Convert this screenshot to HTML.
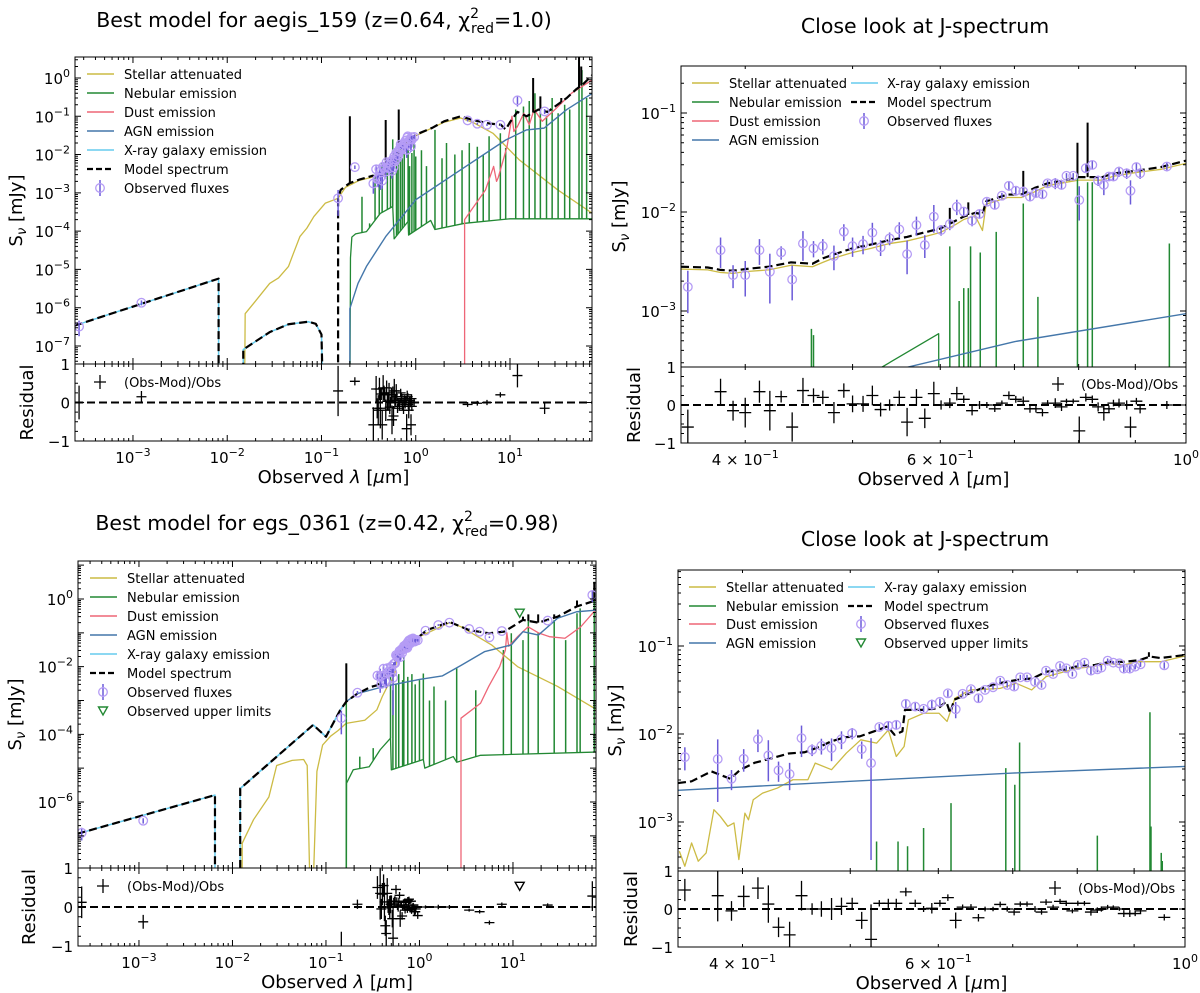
<!DOCTYPE html>
<html><head><meta charset="utf-8">
<style>
html,body{margin:0;padding:0;background:#fff;}
svg{display:block;font-family:"DejaVu Sans","Liberation Sans",sans-serif;}
</style></head>
<body>
<svg id="fig" width="1200" height="993" viewBox="0 0 1200 993" xmlns="http://www.w3.org/2000/svg"></svg>
<script>
// ===================== DATA (wavelength in micron, flux in mJy) =====================
const j1Lam=[0.355,0.380,0.390,0.400,0.412,0.421,0.431,0.441,0.451,0.461,0.470,0.481,0.491,0.500,0.511,0.521,0.530,0.540,0.551,0.560,0.571,0.581,0.592,0.601,0.612,0.621,0.630,0.641,0.651,0.661,0.672,0.682,0.692,0.702,0.713,0.723,0.732,0.742,0.750,0.762,0.772,0.780,0.791,0.801,0.812,0.823,0.833,0.843,0.852,0.860,0.870,0.884,0.891,0.902,0.909,0.961];
const j1Flux=[1.75e-3,4.12e-3,2.30e-3,2.30e-3,4.12e-3,2.49e-3,3.90e-3,2.08e-3,4.81e-3,4.28e-3,4.52e-3,3.58e-3,6.32e-3,4.52e-3,4.74e-3,6.18e-3,4.39e-3,5.41e-3,6.67e-3,3.75e-3,7.38e-3,4.63e-3,8.97e-3,6.57e-3,7.55e-3,1.13e-2,1.01e-2,8.17e-3,9.55e-3,1.27e-2,1.18e-2,1.46e-2,1.84e-2,1.64e-2,1.61e-2,1.43e-2,1.55e-2,1.51e-2,1.95e-2,1.95e-2,1.88e-2,2.32e-2,2.32e-2,1.32e-2,2.77e-2,2.99e-2,2.08e-2,1.88e-2,2.28e-2,2.28e-2,2.56e-2,2.46e-2,1.64e-2,2.84e-2,2.46e-2,2.88e-2];
const j1Err=[0.8e-3,1.4e-3,0.6e-3,0.9e-3,1.2e-3,1.3e-3,0.6e-3,0.8e-3,1.6e-3,0.8e-3,0.8e-3,1.0e-3,1.2e-3,1.0e-3,1.0e-3,1.6e-3,0.8e-3,0.8e-3,1.2e-3,1.4e-3,1.6e-3,1.2e-3,2.8e-3,0.8e-3,1.0e-3,2.0e-3,1.0e-3,1.0e-3,1.0e-3,1.0e-3,1.0e-3,1.0e-3,2.0e-3,1.5e-3,2.0e-3,1.5e-3,1.5e-3,1.5e-3,1.5e-3,2.5e-3,2.0e-3,1.5e-3,1.5e-3,5.0e-3,3.0e-3,3.0e-3,2.5e-3,4.0e-3,2.0e-3,2.0e-3,3.0e-3,3.0e-3,4.5e-3,2.5e-3,3.0e-3,3.0e-3];
const j1Res=[-0.58,0.35,-0.15,-0.2,0.35,-0.15,0.22,-0.58,0.38,0.25,0.2,-0.2,0.38,0.03,0.03,0.25,-0.12,0.0,0.2,-0.45,0.2,-0.35,0.3,0.0,0.05,0.3,0.15,-0.15,0.0,0.0,-0.1,0.05,0.25,0.15,0.1,-0.1,-0.1,-0.2,0.05,0.05,-0.05,0.1,0.1,-0.68,0.2,0.15,-0.05,-0.2,-0.1,0.05,0.05,0.0,-0.58,0.1,-0.1,0.0];
const j1ModelLam=[0.35,0.37,0.38,0.39,0.40,0.42,0.44,0.46,0.47,0.48,0.50,0.52,0.54,0.56,0.58,0.60,0.62,0.63,0.645,0.655,0.66,0.69,0.71,0.73,0.75,0.78,0.80,0.84,0.86,0.90,0.95,1.0];
const j1ModelFlux=[2.8e-3,2.75e-3,2.6e-3,2.55e-3,2.65e-3,2.8e-3,3.1e-3,3.0e-3,3.4e-3,3.7e-3,4.3e-3,4.7e-3,5.2e-3,5.6e-3,6.2e-3,6.8e-3,8.2e-3,9.0e-3,9.8e-3,9.5e-3,1.28e-2,1.5e-2,1.5e-2,1.75e-2,1.95e-2,2.1e-2,2.25e-2,2.25e-2,2.45e-2,2.6e-2,2.85e-2,3.3e-2];
const j1StellarFlux=[2.65e-3,2.6e-3,2.45e-3,2.4e-3,2.5e-3,2.6e-3,2.9e-3,2.8e-3,3.1e-3,3.4e-3,3.9e-3,4.3e-3,4.8e-3,5.1e-3,5.6e-3,6.2e-3,7.5e-3,8.4e-3,9.2e-3,6.5e-3,1.2e-2,1.4e-2,1.4e-2,1.6e-2,1.85e-2,2.0e-2,2.1e-2,2.1e-2,2.3e-2,2.5e-2,2.7e-2,3.1e-2];
const j1SpikeLam=[0.612,0.636,0.713,0.798,0.815];
const j1SpikeFlux=[1.1e-2,1.25e-2,2.6e-2,5.0e-2,8.0e-2];
const j1AgnLam=[0.5,0.56,0.7,1.0];
const j1AgnFlux=[1.8e-4,2.7e-4,4.9e-4,9.4e-4];
const j1NebContLam=[0.525,0.598,0.599];
const j1NebContFlux=[2.5e-4,5.9e-4,1e-9];
const j1LineLam=[0.459,0.461,0.612,0.624,0.630,0.636,0.639,0.652,0.674,0.713,0.735,0.798,0.815,0.823,0.966];
const j1LineFlux=[6.6e-4,5.7e-4,4.5e-3,1.26e-3,1.7e-3,1.7e-3,4.5e-3,3.9e-3,6.3e-3,1.22e-2,1.39e-3,2.2e-2,2.0e-2,2.0e-2,4.8e-3];

const s1ObsLam=[2.68e-4,1.23e-3,0.15,0.226,3.55,4.5,5.7,7.9,12,23.3];
const s1ObsFlux=[3.2e-7,1.35e-6,7.2e-4,4.7e-3,7.8e-2,6.4e-2,6.0e-2,6.0e-2,0.26,0.134];
const s1ObsErr=[1.4e-7,0.2e-6,4.7e-4,0.5e-3,0.5e-2,0.4e-2,0.4e-2,0.4e-2,0.08,0.02];
const s1ObsRes=[0.0,0.15,0.3,0.55,-0.05,-0.02,0.0,0.2,0.7,-0.15];
const s1ModelLam=[2.4e-4,8.1e-3,8.1e-3,0.0148,0.0148,0.0282,0.0447,0.0724,0.087,0.1,0.105,0.15,0.15,0.16,0.18,0.2,0.25,0.3,0.35,0.4,0.45,0.5,0.55,0.6,0.65,0.7,0.8,0.9,1.0,1.5,2,3,4,6,8,9,10,12,15,20,25,30,40,50,60,75];
const s1ModelFlux=[3.4e-7,5.75e-6,1e-9,1e-9,8.1e-8,2.3e-7,3.7e-7,4.3e-7,3.8e-7,2e-7,1e-9,1e-9,7.2e-4,1.2e-3,1.5e-3,1.8e-3,2.2e-3,2.5e-3,2.8e-3,2.6e-3,3.0e-3,4.3e-3,5.3e-3,6.8e-3,1.1e-2,1.6e-2,2.2e-2,2.6e-2,3.3e-2,5e-2,7.4e-2,0.1,0.08,0.065,0.06,0.045,0.07,0.13,0.1,0.15,0.13,0.18,0.3,0.5,0.7,1.2];
const s1SpikeLam=[0.2,0.48,0.66,17.6,21,35,54,57];
const s1SpikeFlux=[0.1,0.08,0.15,1.0,0.33,0.3,3.5,2.0];
const s1XrayLam=[2.4e-4,8.1e-3,8.1e-3,0.0148,0.0148,0.0282,0.0447,0.0724,0.087,0.1,0.105];
const s1XrayFlux=[3.4e-7,5.75e-6,1e-9,1e-9,8.1e-8,2.3e-7,3.7e-7,4.3e-7,3.8e-7,2e-7,1e-9];
const s1StellarLam=[0.0152,0.0155,0.02,0.0282,0.035,0.0447,0.05,0.059,0.07,0.083,0.11,0.15,0.18,0.25,0.35,0.5,0.6,0.7,1.0,2,3,4,6.6,12.6,32,75];
const s1StellarFlux=[1e-9,7e-7,1.5e-6,4.3e-6,6e-6,1.2e-5,2.5e-5,7.2e-5,1.2e-4,2.4e-4,5.4e-4,7.2e-4,1.4e-3,2.1e-3,2.6e-3,4e-3,6.3e-3,1.5e-2,3.1e-2,7e-2,9e-2,7e-2,3.6e-2,7.2e-3,1.2e-3,2.9e-4];
const s1AgnLam=[0.2,0.2,0.244,0.3,0.48,1,3,9,15,23,40,75];
const s1AgnFlux=[1e-9,9.5e-7,4.3e-6,1.2e-5,7.2e-5,6.6e-4,4e-3,2.4e-2,4.4e-2,4.9e-2,0.15,0.4];
const s1DustLam=[3.3,3.3,5.5,6.7,7.2,7.5,9.3,10.5,11,12,14,16,18,22,30,45,75];
const s1DustFlux=[1e-9,2e-4,1.2e-3,4.9e-3,2e-3,2.5e-3,1.6e-2,0.1,4e-2,5.4e-2,0.12,6e-2,0.15,7.4e-2,0.15,0.4,0.9];
const s1NebContLam=[0.2,0.203,0.21,0.23,0.3,0.42,0.57,0.59,0.83,0.84,1.44,1.6,3.3,10,75];
const s1NebContFlux=[1e-9,2e-5,7e-5,8.5e-5,9.7e-5,2.9e-4,4.4e-4,6.3e-5,1.8e-4,7.9e-5,1.9e-4,1.1e-4,1.6e-4,2.1e-4,2.1e-4];
const s1LineLam=[0.269,0.324,0.37,0.41,0.44,0.5,0.54,0.57,0.625,0.65,0.687,0.72,0.755,0.83,0.86,0.91,0.96,1.0,1.15,1.3,1.6,1.9,2.12,2.6,3.1,3.7,4.5,5.2,6.0,7.9,9,11.5,13.9,16,18.4,21,24.4,28,32.4,38,43,54,58,65];
const s1LineFlux=[7.9e-4,1.6e-4,3e-3,2e-3,6e-3,5e-3,9e-3,2.5e-2,7.2e-3,1.2e-2,2e-2,8e-3,1.3e-2,3e-2,5e-3,1.1e-2,2e-2,8.9e-3,1.3e-2,5e-3,4.4e-2,8e-3,2e-2,1e-2,1.3e-2,2e-2,1.6e-2,1e-2,3e-2,3.6e-2,1.5e-2,0.15,0.18,0.25,0.4,0.2,0.1,0.3,0.12,0.2,0.15,3.0,1.6,0.3];

const j2Lam=[0.355,0.380,0.391,0.401,0.413,0.422,0.431,0.441,0.452,0.462,0.471,0.481,0.491,0.502,0.512,0.522,0.531,0.541,0.550,0.561,0.572,0.582,0.592,0.602,0.612,0.622,0.631,0.642,0.652,0.661,0.672,0.682,0.692,0.702,0.711,0.721,0.733,0.743,0.750,0.761,0.772,0.782,0.792,0.801,0.812,0.823,0.834,0.841,0.852,0.862,0.873,0.881,0.892,0.902,0.912,0.958];
const j2Flux=[5.46e-3,5.19e-3,3.10e-3,5.23e-3,8.73e-3,5.70e-3,3.86e-3,3.50e-3,8.97e-3,6.61e-3,7.34e-3,6.91e-3,8.73e-3,1.02e-2,6.73e-3,4.67e-3,1.20e-2,1.24e-2,1.27e-2,2.20e-2,2.05e-2,1.93e-2,2.16e-2,2.32e-2,2.90e-2,1.91e-2,2.86e-2,3.23e-2,2.55e-2,3.17e-2,3.40e-2,4.04e-2,3.61e-2,3.46e-2,4.41e-2,4.41e-2,3.91e-2,3.61e-2,5.25e-2,4.81e-2,5.93e-2,5.58e-2,4.81e-2,6.09e-2,6.47e-2,5.25e-2,5.43e-2,5.68e-2,6.82e-2,6.47e-2,6.36e-2,5.53e-2,5.53e-2,5.83e-2,6.19e-2,6.03e-2];
const j2Err=[1.6e-3,3.5e-3,0.8e-3,1.5e-3,2.5e-3,2.8e-3,1.0e-3,1.2e-3,3.5e-3,1.0e-3,1.5e-3,2.0e-3,2.0e-3,1.5e-3,1.5e-3,4.3e-3,1.0e-3,1.5e-3,1.5e-3,2.5e-3,2.0e-3,1.5e-3,3.0e-3,2.0e-3,2.5e-3,4.0e-3,2.0e-3,2.5e-3,2.5e-3,2.0e-3,2.0e-3,3.0e-3,2.5e-3,3.0e-3,3.0e-3,3.0e-3,3.0e-3,2.5e-3,4.0e-3,3.0e-3,4.0e-3,4.0e-3,3.0e-3,4.0e-3,4.0e-3,5.0e-3,4.0e-3,4.0e-3,4.0e-3,3.0e-3,3.0e-3,5.0e-3,5.0e-3,4.0e-3,4.0e-3,5.0e-3];
const j2Res=[0.5,0.35,-0.05,0.33,0.55,0.13,-0.48,-0.68,0.35,0.0,0.0,0.0,0.07,0.15,-0.3,-0.8,0.15,0.15,0.15,0.45,0.15,0.0,0.02,0.15,0.3,-0.3,0.05,0.05,-0.23,0.0,0.0,0.12,0.0,-0.08,0.13,0.13,0.0,-0.08,0.18,0.05,0.2,0.15,-0.05,0.15,0.15,-0.08,-0.03,0.0,0.05,0.05,0.0,-0.12,-0.12,-0.12,-0.05,-0.22];
const j2ModelLam=[0.35,0.36,0.375,0.39,0.398,0.41,0.425,0.44,0.455,0.47,0.48,0.495,0.51,0.525,0.54,0.548,0.557,0.56,0.58,0.60,0.61,0.615,0.62,0.64,0.66,0.68,0.705,0.73,0.75,0.78,0.80,0.83,0.855,0.88,0.91,0.93,0.95,1.0];
const j2ModelFlux=[2.77e-3,2.9e-3,3.76e-3,3.1e-3,3.9e-3,4.7e-3,5.3e-3,6.0e-3,6.2e-3,7.2e-3,8.2e-3,9.2e-3,9.4e-3,1.07e-2,1.22e-2,9.8e-3,1.07e-2,1.88e-2,1.88e-2,1.96e-2,2.34e-2,1.72e-2,2.45e-2,2.9e-2,3.4e-2,3.77e-2,4.1e-2,4.3e-2,5.1e-2,5.4e-2,5.9e-2,6.1e-2,6.6e-2,6.6e-2,6.9e-2,7.6e-2,7.3e-2,7.9e-2];
const j2SpikeLam=[0.928];
const j2SpikeFlux=[8.5e-2];
const j2StellarLam=[0.351,0.355,0.360,0.365,0.371,0.377,0.382,0.388,0.393,0.397,0.402,0.405,0.409,0.417,0.430,0.444,0.458,0.465,0.481,0.496,0.511,0.528,0.541,0.550,0.559,0.564,0.582,0.601,0.611,0.621,0.641,0.661,0.682,0.705,0.728,0.750,0.774,0.799,0.826,0.852,0.880,0.908,0.952,1.0];
const j2StellarFlux=[4.65e-4,3.14e-4,5.78e-4,3.58e-4,4.45e-4,1.38e-3,1.16e-3,8.93e-4,9.75e-4,3.74e-4,1.26e-3,1.06e-3,1.79e-3,2.13e-3,2.43e-3,3.02e-3,3.02e-3,4.67e-3,3.93e-3,6.07e-3,8.59e-3,7.87e-3,1.11e-2,5.56e-3,7.21e-3,1.45e-2,1.72e-2,1.72e-2,1.39e-2,2.55e-2,3.17e-2,3.22e-2,3.30e-2,3.77e-2,3.17e-2,4.49e-2,4.99e-2,5.58e-2,5.83e-2,6.36e-2,6.09e-2,6.64e-2,6.64e-2,7.7e-2];
const j2AgnLam=[0.35,0.5,0.7,1.0];
const j2AgnFlux=[2.29e-3,2.9e-3,3.6e-3,4.28e-3];
const j2LineLam=[0.528,0.552,0.563,0.582,0.616,0.690,0.703,0.710,0.834,0.930,0.932,0.952,0.954];
const j2LineFlux=[6.0e-4,6.0e-4,5.3e-4,8.55e-4,1.64e-3,4.1e-3,2.65e-3,8.0e-3,7.0e-4,1.77e-2,8.9e-4,4.45e-4,3.6e-4];

const s2ObsLam=[2.44e-4,1.11e-3,0.146,0.217,1.16,1.59,2.09,3.4,4.4,5.6,7.6,23.5,70.6];
const s2ObsFlux=[1.23e-7,2.8e-7,3e-4,1.7e-3,0.116,0.17,0.2,0.13,0.108,7.4e-2,0.113,0.23,1.31];
const s2ObsErr=[0.5e-7,0.5e-7,2.0e-4,0.2e-3,0.005,0.01,0.01,0.005,0.005,0.004,0.005,0.01,0.5];
const s2ObsRes=[0.12,-0.38,-1.3,0.07,0.0,0.0,0.0,-0.08,-0.12,-0.4,0.07,0.05,0.28];
const s2UlLam=[11.8];
const s2UlFlux=[0.38];
const s2UlRes=[0.53];
const s2ModelLam=[2.2e-4,6.5e-3,6.5e-3,0.0121,0.0121,0.073,0.1,0.142,0.165,0.217,0.3,0.35,0.4,0.45,0.5,0.54,0.56,0.6,0.64,0.7,0.8,0.9,1.0,1.2,2.1,3.4,5.5,8,10.5,12.8,18.7,30,48,79];
const s2ModelFlux=[1.15e-7,1.6e-6,1e-9,1e-9,2.5e-6,1.9e-4,8.5e-5,5.2e-4,9.3e-4,1.6e-3,2.5e-3,2.8e-3,4.0e-3,6.1e-3,9.2e-3,1.2e-2,1.9e-2,2e-2,2.9e-2,4.1e-2,5.9e-2,6.9e-2,7.9e-2,0.12,0.21,0.12,0.097,0.108,0.17,0.24,0.2,0.3,0.6,0.93];
const s2SpikeLam=[0.165,9.6,12.8,14.6,18.6,27.6,48.4,74];
const s2SpikeFlux=[1.25e-2,0.15,0.3,0.35,0.35,0.35,0.9,3.2];
const s2XrayLam=[2.2e-4,6.5e-3,6.5e-3,0.0121,0.0121,0.073,0.1,0.142,0.165];
const s2XrayFlux=[1.15e-7,1.6e-6,1e-9,1e-9,2.5e-6,1.9e-4,8.5e-5,5.2e-4,9.3e-4];
const s2StellarLam=[0.0127,0.0127,0.0168,0.0245,0.0297,0.0435,0.0577,0.063,0.068,0.072,0.08,0.092,0.112,0.135,0.164,0.26,0.35,0.4,0.45,0.5,0.55,0.565,0.7,1.0,2.1,2.8,5.9,11.2,30,79];
const s2StellarFlux=[1e-9,6e-8,3e-7,1.4e-6,1.2e-5,1.7e-5,1.8e-5,1.2e-5,1e-9,1e-9,8e-6,4.8e-5,8.8e-5,1.3e-4,2.1e-4,2.6e-4,5.3e-4,1.3e-3,2.5e-3,3.5e-3,7e-3,1.45e-2,3.5e-2,7.7e-2,0.2,0.15,4.4e-2,1e-2,2.6e-3,5.3e-4];
const s2AgnLam=[0.0121,0.073,0.1,0.142,0.165,0.217,0.42,1.0,1.75,2.8,5,9.6,12.8,18.7,30,48,79];
const s2AgnFlux=[2.5e-6,1.9e-4,8.5e-5,5.2e-4,9.3e-4,1.6e-3,2.6e-3,4.2e-3,5.3e-3,1.1e-2,2.8e-2,4.4e-2,0.108,8.6e-2,0.27,0.42,0.47];
const s2DustLam=[2.78,2.78,4.5,5.5,7.2,8.3,8.6,9,11.2,14.5,18.7,24.5,36,53,79];
const s2DustFlux=[1e-9,3e-4,8.3e-4,2.6e-3,1e-2,3.1e-2,0.1,4e-2,7.7e-2,0.15,0.1,7.7e-2,6.9e-2,0.15,0.53];
const s2NebContLam=[0.165,0.166,0.196,0.29,0.38,0.49,0.5,1.1,1.14,2.3,2.5,4.5,79];
const s2NebContFlux=[1e-9,3.6e-6,9e-6,1.1e-5,3.5e-5,7.7e-5,8.9e-6,1.8e-5,1e-5,2.2e-5,1.5e-5,2.4e-5,3e-5];
const s2LineLam=[0.165,0.23,0.32,0.49,0.52,0.56,0.6,0.66,0.68,0.75,0.83,0.9,1.0,1.1,1.28,1.43,1.9,2.5,4,7.9,9.6,12.8,14.6,18.6,27.6,36.6,48.4,52.3,74];
const s2LineFlux=[1.25e-2,2.2e-5,3.9e-5,5e-3,2e-3,3e-3,6e-3,4e-3,2e-2,5e-3,6e-3,3e-3,4e-3,6.3e-3,1e-3,2.6e-3,1e-3,9e-3,2e-3,3.1e-2,9.7e-2,6.1e-2,0.3,0.1,0.24,6.1e-2,0.38,0.53,3.2];

// ===================== DRAWING =====================
const NS='http://www.w3.org/2000/svg';
const svg=document.getElementById('fig');
const C={stellar:'#CCBB44',neb:'#228833',dust:'#EE6677',agn:'#4477AA',xray:'#66CCEE',obsEdge:'#b59cf5',obsErr:'#6a5ad8'};
function mk(tag,attrs,parent){const e=document.createElementNS(NS,tag);for(const k in attrs)e.setAttribute(k,attrs[k]);parent.appendChild(e);return e;}
function interp(lams,fl,l){
  if(!lams||lams.length===0)return 1e-9;
  if(l<lams[0]||l>lams[lams.length-1])return 1e-9;
  for(let i=0;i<lams.length-1;i++){
    if(l>=lams[i]&&l<=lams[i+1]){
      if(lams[i+1]===lams[i])return fl[i+1];
      const t=(Math.log10(l)-Math.log10(lams[i]))/(Math.log10(lams[i+1])-Math.log10(lams[i]));
      return Math.pow(10,Math.log10(fl[i])+t*(Math.log10(fl[i+1])-Math.log10(fl[i])));
    }
  }
  return 1e-9;
}
let clipId=0;
function sci(parent,x,y,anchor,mant,exp,size){
  const t=mk('text',{x:x,y:y,'text-anchor':anchor,'font-size':size||15,fill:'#000'},parent);
  
  
  const a=mk('tspan',{},t);a.textContent=(mant?mant+' \u00d7 ':'')+'10';
  const b=mk('tspan',{dy:-7,'font-size':11},t);b.textContent=exp;
  return t;
}
function panel(cfg){
  const g=mk('g',{},svg);
  
  
  const X=v=>cfg.x0+(Math.log10(v)-cfg.lx0)/(cfg.lx1-cfg.lx0)*(cfg.x1-cfg.x0);
  const Y=v=>cfg.yb-(Math.log10(Math.max(v,1e-14))-cfg.ly0)/(cfg.ly1-cfg.ly0)*(cfg.yb-cfg.yt);
  const R=v=>cfg.yb+(1-v)/2*(cfg.rb-cfg.yb);
  const defs=mk('defs',{},g);
  const cm='c'+(clipId++), cr='c'+(clipId++);
  const cp1=mk('clipPath',{id:cm},defs);mk('rect',{x:cfg.x0,y:cfg.yt,width:cfg.x1-cfg.x0,height:cfg.yb-cfg.yt},cp1);
  const cp2=mk('clipPath',{id:cr},defs);mk('rect',{x:cfg.x0,y:cfg.yb,width:cfg.x1-cfg.x0,height:cfg.rb-cfg.yb},cp2);
  const main=mk('g',{'clip-path':'url(#'+cm+')'},g);
  
  
  const res=mk('g',{'clip-path':'url(#'+cr+')'},g);
  
  
  function line(lams,fl,color,w,name,dash){
    const n=Math.min(lams.length,fl.length);let d='';
    for(let i=0;i<n;i++){d+=(i?'L':'M')+X(lams[i]).toFixed(2)+' '+Math.min(Y(fl[i]),cfg.yb+400).toFixed(2);}
    const p=mk('path',{d:d,fill:'none',stroke:color,'stroke-width':w,'stroke-linejoin':'round'},main);
    if(dash)p.setAttribute('stroke-dasharray',dash);
    
    
  }
  function vlines(lams,fl,baseL,baseF,color,w,name){
    const n=Math.min(lams.length,fl.length);let d='';
    for(let i=0;i<n;i++){
      const b=interp(baseL,baseF,lams[i]);
      const yb=Math.min(Y(b),cfg.yb+5);
      d+='M'+X(lams[i]).toFixed(2)+' '+yb.toFixed(2)+'L'+X(lams[i]).toFixed(2)+' '+Y(fl[i]).toFixed(2);
    }
    const p=mk('path',{d:d,fill:'none',stroke:color,'stroke-width':w},main);
    
    
  }
  const S=cfg.s;
  if(S.stellarL)line(S.stellarL,S.stellarF,C.stellar,1.3,'stellar-attenuated-line');
  if(S.nebL)line(S.nebL,S.nebF,C.neb,1.3,'nebular-continuum-line');
  if(S.lineL)vlines(S.lineL,S.lineF,S.nebL,S.nebF,C.neb,1.5,'nebular-emission-lines');
  if(S.dustL)line(S.dustL,S.dustF,C.dust,1.3,'dust-emission-line');
  if(S.agnL)line(S.agnL,S.agnF,C.agn,1.4,'agn-emission-line');
  if(S.xrayL)line(S.xrayL,S.xrayF,C.xray,1.5,'xray-emission-line');
  line(S.modelL,S.modelF,'#000',2.2,'model-spectrum-line','8,4');
  if(S.spikeL)vlines(S.spikeL,S.spikeF,S.modelL,S.modelF,'#000',2,'model-spectrum-spikes');
  const hw=cfg.hw;
  S.obs.forEach(o=>{
    const n=Math.min(o.l.length,o.f.length);
    for(let i=0;i<n;i++){
      const x=X(o.l[i]),y=Y(o.f[i]);
      const lo=o.f[i]-o.e[i]>0?Y(o.f[i]-o.e[i]):cfg.yb+10;
      const eb=mk('line',{x1:x,x2:x,y1:lo,y2:Y(o.f[i]+o.e[i]),stroke:C.obsErr,'stroke-width':1.5},main);
      
      
      const c=mk('circle',{cx:x,cy:y,r:4.3,fill:'none',stroke:C.obsEdge,'stroke-width':1.3},main);
      
      
      const rv=o.r[i],re=o.e[i]/o.f[i];
      const ry=R(rv);
      let d='M'+(x-hw)+' '+ry+'L'+(x+hw)+' '+ry+'M'+x+' '+R(rv+re)+'L'+x+' '+R(rv-re);
      const cr2=mk('path',{d:d,stroke:'#000','stroke-width':1.3,fill:'none'},res);
      
      
    }
  });
  if(S.ulL){
    for(let i=0;i<S.ulL.length;i++){
      const x=X(S.ulL[i]),y=Y(S.ulF[i]);
      const t=mk('path',{d:`M${x-4.5} ${y-4}L${x+4.5} ${y-4}L${x} ${y+4}Z`,fill:'none',stroke:C.neb,'stroke-width':1.4},main);
      
      
      const ry=R(S.ulR[i]);
      const t2=mk('path',{d:`M${x-4.5} ${ry-4}L${x+4.5} ${ry-4}L${x} ${ry+4}Z`,fill:'none',stroke:'#000','stroke-width':1.4},res);
      
      
    }
  }
  const zl=mk('line',{x1:cfg.x0,x2:cfg.x1,y1:R(0),y2:R(0),stroke:'#000','stroke-width':2,'stroke-dasharray':'8,4'},res);
  
  
  const f1=mk('rect',{x:cfg.x0,y:cfg.yt,width:cfg.x1-cfg.x0,height:cfg.yb-cfg.yt,fill:'none',stroke:'#000','stroke-width':1},g);
  
  
  const f2=mk('rect',{x:cfg.x0,y:cfg.yb,width:cfg.x1-cfg.x0,height:cfg.rb-cfg.yb,fill:'none',stroke:'#000','stroke-width':1},g);
  
  
  let td='';
  const xt=(x,len)=>{td+=`M${x} ${cfg.yt}l0 ${len}M${x} ${cfg.yb}l0 ${-len}M${x} ${cfg.yb}l0 ${len}M${x} ${cfg.rb}l0 ${-len}`;};
  const yt=(y,len)=>{td+=`M${cfg.x0} ${y}l${len} 0M${cfg.x1} ${y}l${-len} 0`;};
  const xlab=mk('g',{},g);
  
  
  if(cfg.type==='full'){
    for(let e=Math.floor(cfg.lx0);e<=Math.ceil(cfg.lx1);e++){
      for(let k=1;k<10;k++){const lv=e+Math.log10(k);if(lv<cfg.lx0||lv>cfg.lx1)continue;
        const x=X(Math.pow(10,lv));xt(x,k===1?6:3);
        if(k===1)sci(xlab,x,cfg.rb+22,'middle','',(e<0?'\u2212'+(-e):String(e)));}
    }
  } else {
    [0.4,0.5,0.6,0.7,0.8,0.9,1.0].forEach(v=>{const x=X(v);xt(x,v===1?6:3);});
    sci(xlab,X(0.4),cfg.rb+22,'middle','4','\u22121');
    sci(xlab,X(0.6),cfg.rb+22,'middle','6','\u22121');
    sci(xlab,X(1.0),cfg.rb+22,'middle','','0');
  }
  const ylab=mk('g',{},g);
  
  
  for(let e=Math.floor(cfg.ly0);e<=Math.ceil(cfg.ly1);e++){
    for(let k=1;k<10;k++){const lv=e+Math.log10(k);if(lv<cfg.ly0||lv>cfg.ly1)continue;
      const y=Y(Math.pow(10,lv));yt(y,k===1?6:3);
      if(k===1&&(e%cfg.ystep===0))sci(ylab,cfg.x0-5,y+6,'end','',(e<0?'\u2212'+(-e):String(e)));}
  }
  for(let v=-1;v<=1.001;v+=0.25){yt(R(v),Math.abs(v-Math.round(v))<0.01?6:3);}
  [[1,'1'],[0,'0'],[-1,'\u22121']].forEach(([v,s])=>{
    const t=mk('text',{x:cfg.x0-5,y:R(v)+6,'text-anchor':'end','font-size':15},ylab);
    
    
    t.textContent=s;
  });
  const tk=mk('path',{d:td,stroke:'#000','stroke-width':1,fill:'none'},g);
  
  
  const ylx=cfg.ylabX, ylc=(cfg.yt+cfg.yb)/2;
  const yl=mk('text',{x:ylx,y:ylc,'text-anchor':'middle','font-size':18,transform:`rotate(-90 ${ylx} ${ylc})`},g);
  
  
  mk('tspan',{},yl).textContent='S';
  mk('tspan',{dy:4,'font-size':13,'font-style':'italic'},yl).textContent='\u03bd';
  mk('tspan',{dy:-4},yl).textContent=' [mJy]';
  const rlx=cfg.resLabX, rlc=(cfg.yb+cfg.rb)/2;
  const rl=mk('text',{x:rlx,y:rlc,'text-anchor':'middle','font-size':18,transform:`rotate(-90 ${rlx} ${rlc})`},g);
  
  
  rl.textContent='Residual';
  const xcx=(cfg.x0+cfg.x1)/2;
  const xl=mk('text',{x:xcx,y:cfg.rb+42,'text-anchor':'middle','font-size':18},g);
  
  
  mk('tspan',{},xl).textContent='Observed ';
  mk('tspan',{'font-style':'italic'},xl).textContent='\u03bb';
  mk('tspan',{},xl).textContent=' [';
  mk('tspan',{'font-style':'italic'},xl).textContent='\u03bc';
  mk('tspan',{},xl).textContent='m]';
  const tt=mk('text',{x:cfg.titleX,y:cfg.titleY,'text-anchor':'middle','font-size':20.5},g);
  
  
  if(cfg.title.chi){
    mk('tspan',{},tt).textContent=cfg.title.pre+'\u03c7';
    mk('tspan',{dy:-9,'font-size':14},tt).textContent='2';
    mk('tspan',{dx:-8,dy:15,'font-size':14},tt).textContent='red';
    mk('tspan',{dy:-6},tt).textContent=cfg.title.post;
  } else tt.textContent=cfg.title.pre;
  const lg=mk('g',{'font-size':13},g);
  
  
  cfg.legend.forEach(it=>{
    const e=mk('g',{},lg);
    
    
    const lx=it.x, ly=it.y;
    if(it.kind==='line'){const l=mk('line',{x1:lx,x2:lx+27,y1:ly,y2:ly,stroke:it.color,'stroke-width':it.dash?2.2:1.5},e);if(it.dash)l.setAttribute('stroke-dasharray','6,3');}
    else if(it.kind==='obs'){mk('line',{x1:lx+13,x2:lx+13,y1:ly-8,y2:ly+8,stroke:C.obsErr,'stroke-width':1.5},e);mk('circle',{cx:lx+13,cy:ly,r:4.3,fill:'none',stroke:C.obsEdge,'stroke-width':1.3},e);}
    else if(it.kind==='ul'){mk('path',{d:`M${lx+8.5} ${ly-4}L${lx+17.5} ${ly-4}L${lx+13} ${ly+4}Z`,fill:'none',stroke:C.neb,'stroke-width':1.4},e);}
    else if(it.kind==='cross'){mk('path',{d:`M${lx+7} ${ly}L${lx+19} ${ly}M${lx+13} ${ly-7}L${lx+13} ${ly+7}`,stroke:'#000','stroke-width':1.3},e);}
    const t=mk('text',{x:it.tx,y:ly+5},e);t.textContent=it.text;
  });
}
function legendCol(x,tx,ys,items){return items.map((it,i)=>Object.assign({x:x,tx:tx,y:ys[i]},it));}
const baseItems=[
 {kind:'line',color:C.stellar,text:'Stellar attenuated'},
 {kind:'line',color:C.neb,text:'Nebular emission'},
 {kind:'line',color:C.dust,text:'Dust emission'},
 {kind:'line',color:C.agn,text:'AGN emission'},
 {kind:'line',color:C.xray,text:'X-ray galaxy emission'},
 {kind:'line',color:'#000',dash:true,text:'Model spectrum'},
 {kind:'obs',text:'Observed fluxes'},
 {kind:'ul',text:'Observed upper limits'}];

panel({name:'sed-panel-aegis-159',type:'full',x0:75,x1:592,lx0:-3.615,lx1:1.870,yt:57,yb:364,ly0:-7.47,ly1:0.548,rb:441,ystep:1,hw:5,
 ylabX:22,resLabX:33,titleX:324,titleY:27,title:{chi:true,pre:'Best model for aegis_159 (z=0.64, ',post:'=1.0)'},
 s:{stellarL:s1StellarLam,stellarF:s1StellarFlux,nebL:s1NebContLam,nebF:s1NebContFlux,lineL:s1LineLam,lineF:s1LineFlux,dustL:s1DustLam,dustF:s1DustFlux,agnL:s1AgnLam,agnF:s1AgnFlux,xrayL:s1XrayLam,xrayF:s1XrayFlux,modelL:s1ModelLam,modelF:s1ModelFlux,spikeL:s1SpikeLam,spikeF:s1SpikeFlux,
  obs:[{l:s1ObsLam,f:s1ObsFlux,e:s1ObsErr,r:s1ObsRes},{l:j1Lam,f:j1Flux,e:j1Err,r:j1Res}]},
 legend:legendCol(87,124,[74,93,112,131,150,169,188],baseItems.slice(0,7)).concat([{kind:'cross',x:87,tx:124,y:382,text:'(Obs-Mod)/Obs'}])
});
panel({name:'j-spectrum-panel-aegis-159',type:'j',x0:681,x1:1186,lx0:Math.log10(0.35),lx1:0,yt:66,yb:367,ly0:-3.566,ly1:-0.525,rb:443,ystep:1,hw:6,
 ylabX:625,resLabX:640,titleX:925,titleY:33,title:{pre:'Close look at J-spectrum'},
 s:{stellarL:j1ModelLam,stellarF:j1StellarFlux,nebL:j1NebContLam,nebF:j1NebContFlux,lineL:j1LineLam,lineF:j1LineFlux,agnL:j1AgnLam,agnF:j1AgnFlux,modelL:j1ModelLam,modelF:j1ModelFlux,spikeL:j1SpikeLam,spikeF:j1SpikeFlux,
  obs:[{l:j1Lam,f:j1Flux,e:j1Err,r:j1Res}]},
 legend:legendCol(692,729,[83,102,121,140],baseItems.slice(0,4)).concat(legendCol(851,887,[83,102,121],baseItems.slice(4,7))).concat([{kind:'cross',x:1045,tx:1081,y:384,text:'(Obs-Mod)/Obs'}])
});
panel({name:'sed-panel-egs-0361',type:'full',x0:78,x1:596,lx0:-3.652,lx1:1.888,yt:561,yb:868,ly0:-7.951,ly1:1.123,rb:946,ystep:2,hw:5,
 ylabX:21,resLabX:35,titleX:327,titleY:530,title:{chi:true,pre:'Best model for egs_0361 (z=0.42, ',post:'=0.98)'},
 s:{stellarL:s2StellarLam,stellarF:s2StellarFlux,nebL:s2NebContLam,nebF:s2NebContFlux,lineL:s2LineLam,lineF:s2LineFlux,dustL:s2DustLam,dustF:s2DustFlux,agnL:s2AgnLam,agnF:s2AgnFlux,xrayL:s2XrayLam,xrayF:s2XrayFlux,modelL:s2ModelLam,modelF:s2ModelFlux,spikeL:s2SpikeLam,spikeF:s2SpikeFlux,
  ulL:s2UlLam,ulF:s2UlFlux,ulR:s2UlRes,
  obs:[{l:s2ObsLam,f:s2ObsFlux,e:s2ObsErr,r:s2ObsRes},{l:j2Lam,f:j2Flux,e:j2Err,r:j2Res}]},
 legend:legendCol(90,127,[578,597,616,635,654,673,692,711],baseItems).concat([{kind:'cross',x:90,tx:127,y:886,text:'(Obs-Mod)/Obs'}])
});
panel({name:'j-spectrum-panel-egs-0361',type:'j',x0:678,x1:1185,lx0:Math.log10(0.35),lx1:0,yt:570,yb:871,ly0:-3.557,ly1:-0.136,rb:947,ystep:1,hw:6,
 ylabX:621,resLabX:637,titleX:925,titleY:546,title:{pre:'Close look at J-spectrum'},
 s:{stellarL:j2StellarLam,stellarF:j2StellarFlux,lineL:j2LineLam,lineF:j2LineFlux,agnL:j2AgnLam,agnF:j2AgnFlux,modelL:j2ModelLam,modelF:j2ModelFlux,spikeL:j2SpikeLam,spikeF:j2SpikeFlux,
  obs:[{l:j2Lam,f:j2Flux,e:j2Err,r:j2Res}]},
 legend:legendCol(689,726,[587,606,624,643],baseItems.slice(0,4)).concat(legendCol(848,884,[587,606,624,643],baseItems.slice(4,8))).concat([{kind:'cross',x:1042,tx:1078,y:888,text:'(Obs-Mod)/Obs'}])
});
</script>
</body></html>
